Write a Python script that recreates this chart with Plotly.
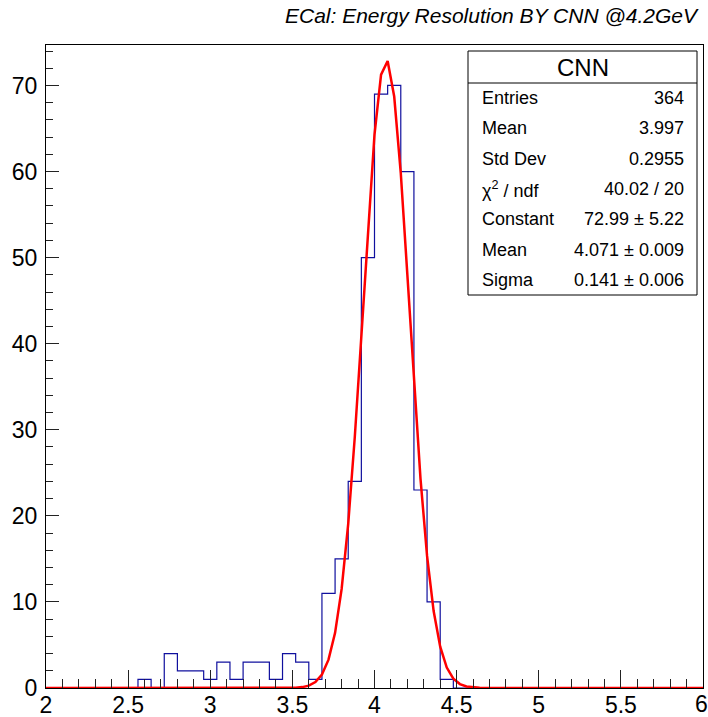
import numpy as np
import plotly.graph_objects as go

# Histogram: 50 bins of width 0.08 over [2, 6]
bin_lo = 2.0
bin_hi = 6.0
bin_width = 0.08
counts = [0, 0, 0, 0, 0, 0, 0, 1, 0, 4,
          2, 2, 1, 3, 1, 3, 3, 1, 4, 3,
          1, 11, 15, 24, 50, 69, 70, 60, 23, 10,
          1, 0, 0, 0, 0, 0, 0, 0, 0, 0,
          0, 0, 0, 0, 0, 0, 0, 0, 0, 0]

# Gaussian fit parameters
fit_constant = 72.99
fit_mean = 4.071
fit_sigma = 0.141
fit_npx = 100

title_text = "ECal: Energy Resolution BY CNN @4.2GeV"
stats_title = "CNN"
stats_labels = ["Entries", "Mean", "Std Dev", "χ<sup>2</sup> / ndf", "Constant", "Mean", "Sigma"]
stats_values = ["364", "3.997", "0.2955", "40.02 / 20", "72.99 ± 5.22", "4.071 ± 0.009", "0.141 ± 0.006"]

x_tick_values = [2, 2.5, 3, 3.5, 4, 4.5, 5, 5.5]
x_tick_text = ["2", "2.5", "3", "3.5", "4", "4.5", "5", "5.5"]
x_last_label = "6"
x_range = [2, 6]
y_range = [0, 74.7]

FONT = "Liberation Sans, Arial, Helvetica, sans-serif"

# step outline of the histogram
n = len(counts)
edges = [bin_lo + i * bin_width for i in range(n + 1)]
step_x = [edges[0]] + edges + [edges[-1]]
step_y = [0] + counts + [counts[-1], 0]

# fitted gaussian sampled like a ROOT TF1 polyline
fx = np.linspace(bin_lo, bin_hi, fit_npx + 1)
fy = fit_constant * np.exp(-0.5 * ((fx - fit_mean) / fit_sigma) ** 2)

fig = go.Figure()
fig.add_trace(go.Scatter(x=step_x, y=step_y, mode="lines", line_shape="hv",
                         line=dict(color="#10109e", width=1.2), showlegend=False,
                         hoverinfo="skip"))
fig.add_trace(go.Scatter(x=fx, y=fy, mode="lines",
                         line=dict(color="#ff0000", width=2.5), showlegend=False,
                         hoverinfo="skip"))

W, H = 708, 717
L, R, T, B = 46, 703, 45, 688


def px(x):
    return (x - L) / (R - L)


def py(y):
    return (B - y) / (B - T)


fig.update_layout(
    width=W, height=H,
    margin=dict(l=L, r=W - R, t=T, b=H - B, autoexpand=False),
    paper_bgcolor="white", plot_bgcolor="white",
    font=dict(family=FONT, color="black"),
    xaxis=dict(range=x_range, tickvals=x_tick_values, ticktext=x_tick_text,
               ticks="inside", ticklen=18,
               tickcolor="#222", tickwidth=1, showgrid=False, zeroline=False,
               showline=True, linecolor="black", linewidth=1, mirror=True,
               automargin=False,
               tickfont=dict(size=23, family=FONT), ticklabelstandoff=-4,
               minor=dict(dtick=0.1, tick0=2, ticks="inside", ticklen=9,
                          tickcolor="#222", showgrid=False)),
    yaxis=dict(range=y_range, dtick=10, tick0=0, ticks="inside", ticklen=13,
               tickcolor="#222", tickwidth=1, showgrid=False, zeroline=False,
               showline=True, linecolor="black", linewidth=1, mirror=True,
               automargin=False,
               tickfont=dict(size=23, family=FONT), ticklabelstandoff=3,
               minor=dict(dtick=2, ticks="inside", ticklen=7, tickcolor="#222",
                          showgrid=False)),
)

annotations = [dict(text="<i>" + title_text + "</i>", xref="paper", yref="paper",
                    x=px(701), y=py(15), xanchor="right", yanchor="middle",
                    showarrow=False,
                    font=dict(size=21, family=FONT, color="black"))]

# last x tick label sits at the right edge of the page
annotations.append(dict(text=x_last_label, xref="x", yref="paper",
                        x=x_range[1], y=py(704), xanchor="center", yanchor="middle",
                        xshift=-2, showarrow=False,
                        font=dict(size=23, family=FONT, color="black")))

# stats box
bx0, bx1, by0, by1, bhead = 468, 697, 51, 295, 83
shapes = [
    dict(type="rect", xref="paper", yref="paper", x0=px(bx0), x1=px(bx1),
         y0=py(by1), y1=py(by0), line=dict(color="black", width=1),
         fillcolor="white", layer="above"),
    dict(type="line", xref="paper", yref="paper", x0=px(bx0), x1=px(bx1),
         y0=py(bhead), y1=py(bhead), line=dict(color="black", width=1),
         layer="above"),
]
annotations.append(dict(text=stats_title, xref="paper", yref="paper",
                        x=px((bx0 + bx1) / 2), y=py((by0 + bhead) / 2),
                        xanchor="center", yanchor="middle", showarrow=False,
                        font=dict(size=24, family=FONT, color="black")))
row_h = (by1 - bhead) / len(stats_labels)
for i, (lab, val) in enumerate(zip(stats_labels, stats_values)):
    yc = bhead + row_h * (i + 0.5)
    annotations.append(dict(text=lab, xref="paper", yref="paper",
                            x=px(480), y=py(yc), xanchor="left", yanchor="middle",
                            showarrow=False,
                            font=dict(size=18, family=FONT, color="black")))
    annotations.append(dict(text=val, xref="paper", yref="paper",
                            x=px(686), y=py(yc), xanchor="right", yanchor="middle",
                            showarrow=False,
                            font=dict(size=18, family=FONT, color="black")))

fig.update_layout(shapes=shapes, annotations=annotations)
fig.write_html("out.html")
